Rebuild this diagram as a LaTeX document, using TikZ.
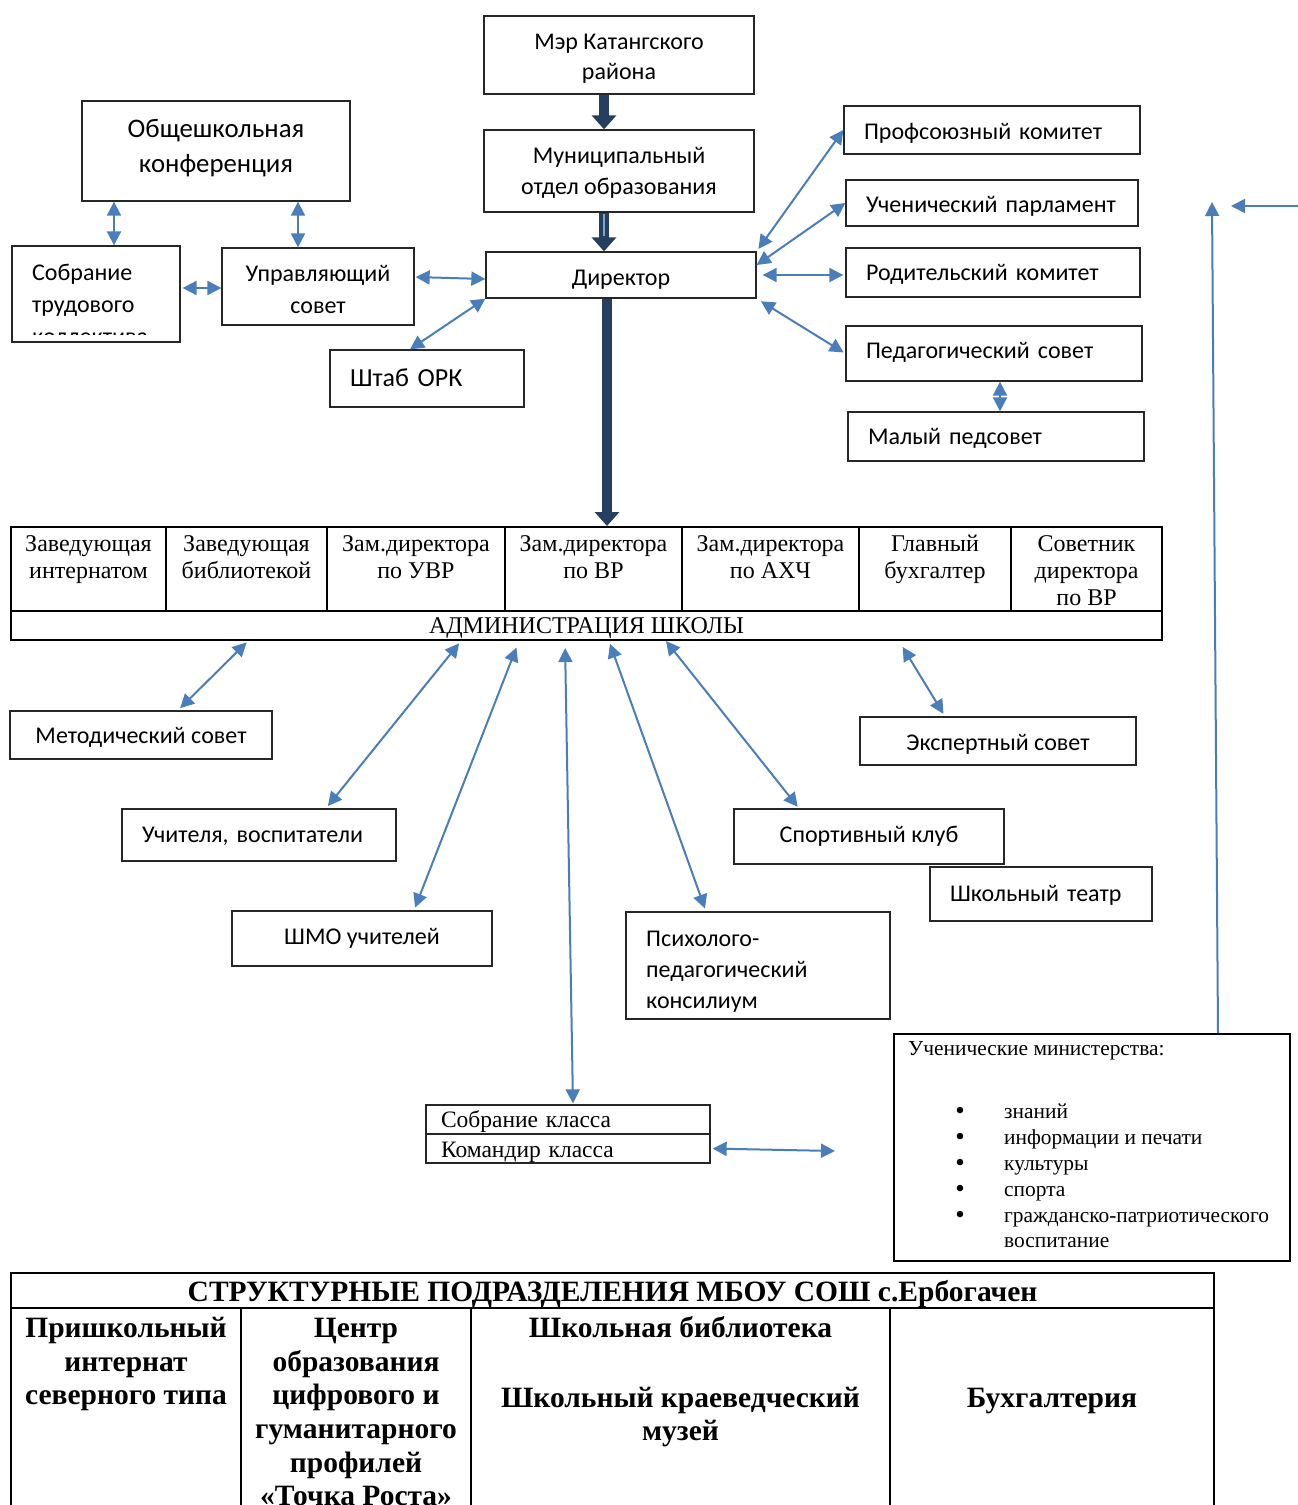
\documentclass[tikz,border=0pt]{standalone}
\usepackage{fontspec}
\setmainfont{Carlito}
\newfontfamily\tnr{Liberation Serif}
\usetikzlibrary{arrows.meta}
\definecolor{ablue}{HTML}{4A7EBB}
\definecolor{navyc}{HTML}{243F60}
\frenchspacing
\begin{document}
\begin{tikzpicture}[x=1pt,y=-1pt,
  box/.style={draw=black!85,line width=1.3pt,inner sep=0pt,align=center},
  cal/.style={font=\fontsize{24}{30.5}\selectfont},
  sl/.style={text height=#1,text depth=0pt},
  lbox/.style={text width=#1,inner xsep=20pt,align=left},
  tabtxt/.style={font=\tnr\fontsize{24}{27}\selectfont,inner sep=0pt,align=center},
  btxt/.style={font=\tnr\bfseries\fontsize{29.5}{33.6}\selectfont,inner sep=0pt,align=center},
  mtxt/.style={font=\tnr\fontsize{21.4}{26}\selectfont,inner sep=0pt},
  bul/.style={font=\tnr\fontsize{27}{27}\selectfont,inner sep=0pt,anchor=base},
  tcell/.style={draw=black,line width=2pt,inner sep=0pt},
  bi/.style={draw=ablue,line width=2pt,{Triangle[length=14pt,width=14pt]}-{Triangle[length=14pt,width=14pt]}},
  one/.style={draw=ablue,line width=2pt,-{Triangle[length=14pt,width=14pt]}},
  heavy/.style={draw=navyc,line width=10pt,-{Triangle[length=14pt,width=24pt]}}]
\useasboundingbox (0,0) rectangle (1298,1505);
\clip (0,0) rectangle (1298,1505);
\fill[white] (0,0) rectangle (1298,1505);

% ---------- top boxes
\node[box,minimum width=270,minimum height=78] (mayor) at (619,55) {};
\node[anchor=north,inner sep=0pt,align=center,font=\fontsize{24}{30}\selectfont] (mayort) at (619,28.5) {\strut Мэр Катангского\\района};
\node[box,minimum width=270,minimum height=82] (mun) at (619,171) {};
\node[anchor=north,inner sep=0pt,align=center,font=\fontsize{24}{31}\selectfont] (munt) at (619,141.5) {\strut Муниципальный\\отдел образования};
\node[box,cal,sl=20.8pt,minimum width=270,minimum height=46] (dir) at (621,275) {Директор};
\node[box,minimum width=268,minimum height=100] (conf) at (216,151) {};
\node[anchor=north,inner sep=0pt,align=center,font=\fontsize{26.8}{35}\selectfont] (conft) at (216,112.5) {\strut Общешкольная\\конференция};
\node[box,minimum width=168,minimum height=96] (sob) at (96,294) {};
\begin{scope}
  \clip (12,246) rectangle (180,334.5);
  \node[anchor=north west,inner sep=0pt,align=left,font=\fontsize{24}{32}\selectfont] (sobt) at (32,257.6) {\strut Собрание\\трудового\\коллектива};
\end{scope}
\node[box,minimum width=192,minimum height=77] (upr) at (318,286.5) {};
\node[anchor=north,inner sep=0pt,align=center,font=\fontsize{24}{32}\selectfont] (uprt) at (318,259) {\strut Управляющий\\совет};
\node[box,font=\fontsize{26}{32}\selectfont,sl=15.6pt,minimum width=194,minimum height=57,lbox=154pt] (shtab) at (427,378.5) {\mbox{Штаб ОРК}};
\node[box,cal,sl=18.8pt,minimum width=296,minimum height=48,lbox=256pt] (prof) at (992,130) {\mbox{Профсоюзный комитет}};
\node[box,cal,sl=18.8pt,minimum width=292,minimum height=46,lbox=252pt] (uch) at (992,203) {\mbox{Ученический парламент}};
\node[box,cal,sl=15.8pt,minimum width=294,minimum height=49,lbox=254pt] (rod) at (993,272.5) {\mbox{Родительский комитет}};
\node[box,cal,sl=9.8pt,minimum width=296,minimum height=55,lbox=256pt] (ped) at (994,353.5) {\mbox{Педагогический совет}};
\node[box,cal,sl=15.8pt,minimum width=296,minimum height=49,lbox=256pt] (mal) at (996,436.5) {\mbox{Малый педсовет}};

% ---------- heavy arrows
\draw[heavy] (604,0 |- mayor.south) -- (604,0 |- mun.north);
\draw[heavy] (604,0 |- mun.south) -- (604,0 |- dir.north);
\draw[draw=ablue!70,line width=1.5pt] (604,214) -- (604,236);

% ---------- thin arrows (top)
\draw[bi] (114,0 |- conf.south) -- (114,0 |- sob.north);
\draw[bi] (298,0 |- conf.south) -- (298,0 |- upr.north);
\draw[bi,shorten <=2pt] (sob.east |- 0,288) -- (upr.west |- 0,288);
\draw[bi,shorten <=1pt] (upr.east |- 0,277) -- (dir.west |- 0,279);
\draw[bi] (410,0 |- shtab.north) -- (dir.south west);
\draw[bi,shorten <=3pt] (dir.north east) -- (prof.west);
\draw[bi] (dir.east |- 0,265) -- (uch.west);
\draw[bi,shorten <=6pt,shorten >=2pt] (dir.east) -- (rod.west |- dir.east);
\draw[bi,shorten <=5pt,shorten >=2pt] (dir.south east) -- (ped.west);
\draw[bi] (1000,0 |- ped.south) -- (1000,0 |- mal.north);

% ---------- administration table
\node[tcell,minimum width=155,minimum height=84] (c1) at (88.5,569) {};
\node[tcell,minimum width=161,minimum height=84] (c2) at (246.5,569) {};
\node[tcell,minimum width=178,minimum height=84] (c3) at (416,569) {};
\node[tcell,minimum width=177,minimum height=84] (c4) at (593.5,569) {};
\node[tcell,minimum width=177,minimum height=84] (c5) at (770.5,569) {};
\node[tcell,minimum width=152,minimum height=84] (c6) at (935,569) {};
\node[tcell,minimum width=151,minimum height=84] (c7) at (1086.5,569) {};
\node[tcell,tabtxt,sl=16.8pt,minimum width=1151,minimum height=29] (adm) at (586.5,625.5) {АДМИНИСТРАЦИЯ ШКОЛЫ};
\node[tabtxt,anchor=north] (h1) at (88.5,532) {\strut Заведующая\\интернатом};
\node[tabtxt,anchor=north] (h2) at (246.5,532) {\strut Заведующая\\библиотекой};
\node[tabtxt,anchor=north] (h3) at (416,532) {\strut Зам.директора\\по УВР};
\node[tabtxt,anchor=north] (h4) at (593.5,532) {\strut Зам.директора\\по ВР};
\node[tabtxt,anchor=north] (h5) at (770.5,532) {\strut Зам.директора\\по АХЧ};
\node[tabtxt,anchor=north] (h6) at (935,532) {\strut Главный\\бухгалтер};
\node[tabtxt,anchor=north] (h7) at (1086.5,532) {\strut Советник\\директора\\по ВР};

\draw[heavy] (607,0 |- dir.south) -- (607,0 |- c4.north);

% ---------- lower boxes
\node[box,cal,sl=16.8pt,minimum width=262,minimum height=48] (metod) at (141,735) {Методический совет};
\node[box,cal,sl=14.8pt,minimum width=274,minimum height=52,lbox=234pt] (ucht) at (259,835) {\mbox{Учителя, воспитатели}};
\node[box,cal,sl=11.8pt,minimum width=260,minimum height=55] (shmo) at (362,938.5) {ШМО учителей};
\node[box,minimum width=264,minimum height=107] (psy) at (758,965.5) {};
\node[anchor=north west,inner sep=0pt,align=left,font=\fontsize{24}{31}\selectfont] (psyt) at (646,924.5) {\strut Психолого-\\педагогический\\консилиум};
\node[box,cal,sl=11.8pt,minimum width=270,minimum height=55] (sport) at (869,836.5) {Спортивный клуб};
\node[box,cal,sl=18.8pt,minimum width=276,minimum height=48] (exp) at (998,741) {Экспертный совет};
\node[box,cal,sl=14.8pt,minimum width=222,minimum height=54,lbox=182pt] (teatr) at (1041,894) {\mbox{Школьный театр}};
\node[box,font=\tnr\fontsize{23.5}{27}\selectfont,sl=15.6pt,minimum width=284,minimum height=29,text width=254pt,inner xsep=15pt,align=left] (klass) at (568,1119.5) {\mbox{Собрание класса}};
\node[box,font=\tnr\fontsize{23.5}{27}\selectfont,sl=17.6pt,minimum width=284,minimum height=29,text width=254pt,inner xsep=15pt,align=left] (kom) at (568,1148.5) {\mbox{Командир класса}};

% ministries
\node[draw=black,line width=1.8pt,minimum width=396,minimum height=227,inner sep=0pt] (mins) at (1092,1147.5) {};
\node[mtxt,anchor=base west] (m0) at (908,1055) {Ученические министерства:};
\node[bul] (b1) at (960,1119) {•};
\node[bul] (b2) at (960,1145) {•};
\node[bul] (b3) at (960,1171) {•};
\node[bul] (b4) at (960,1197) {•};
\node[bul] (b5) at (960,1223) {•};
\node[mtxt,anchor=base west] (m1) at (1004,1118) {знаний};
\node[mtxt,anchor=base west] (m2) at (1004,1144) {информации и печати};
\node[mtxt,anchor=base west] (m3) at (1004,1170) {культуры};
\node[mtxt,anchor=base west] (m4) at (1004,1196) {спорта};
\node[mtxt,anchor=base west] (m5) at (1004,1222) {гражданско-патриотического};
\node[mtxt,anchor=base west] (m6) at (1004,1247) {воспитание};

% ---------- arrows from administration
\draw[bi,shorten <=2pt,shorten >=3pt] (248,0 |- adm.south) -- (178,0 |- metod.north);
\draw[bi,shorten <=3pt,shorten >=3pt] (461,0 |- adm.south) -- (326,0 |- ucht.north);
\draw[bi,shorten <=7pt,shorten >=3pt] (519,0 |- adm.south) -- (414,0 |- shmo.north);
\draw[bi,shorten <=7pt,shorten >=1pt] (565,0 |- adm.south) -- (573,0 |- klass.north);
\draw[bi,shorten <=3pt,shorten >=3pt] (609,0 |- adm.south) -- (706,0 |- psy.north);
\draw[bi,shorten >=2pt] (666,0 |- adm.south) -- (799,0 |- sport.north);
\draw[bi,shorten <=7pt,shorten >=3pt] (899,0 |- adm.south) -- (945,0 |- exp.north);

\coordinate (kfree) at (835,1151);
\draw[bi,shorten <=2pt] (kom.east) -- (kfree);
\coordinate (uptip) at (1212,202);
\draw[one] (1218,0 |- mins.north) -- (uptip);
\coordinate (redge) at (1298,206);
\coordinate (rtip) at (1231,206);
\draw[one] (redge) -- (rtip);

% ---------- bottom table
\node[tcell,btxt,sl=21.4pt,minimum width=1203,minimum height=35] (t0) at (612.5,1290.5) {СТРУКТУРНЫЕ ПОДРАЗДЕЛЕНИЯ МБОУ СОШ с.Ербогачен};
\node[tcell,minimum width=230,minimum height=232] (d1) at (126,1424) {};
\node[tcell,minimum width=230,minimum height=232] (d2) at (356,1424) {};
\node[tcell,minimum width=419,minimum height=232] (d3) at (680.5,1424) {};
\node[tcell,minimum width=324,minimum height=232] (d4) at (1052,1424) {};
\node[btxt,anchor=north] (e1) at (126,1314) {\strut Пришкольный\\интернат\\северного типа};
\node[btxt,anchor=north] (e2) at (356,1314) {\strut Центр\\образования\\цифрового и\\гуманитарного\\профилей\\«Точка Роста»};
\node[btxt,anchor=north] (e3) at (680.5,1314) {\strut Школьная библиотека\\[36pt]Школьный краеведческий\\музей};
\node[btxt,anchor=north] (e4) at (1052,1384) {\strut Бухгалтерия};
\end{tikzpicture}
\end{document}
